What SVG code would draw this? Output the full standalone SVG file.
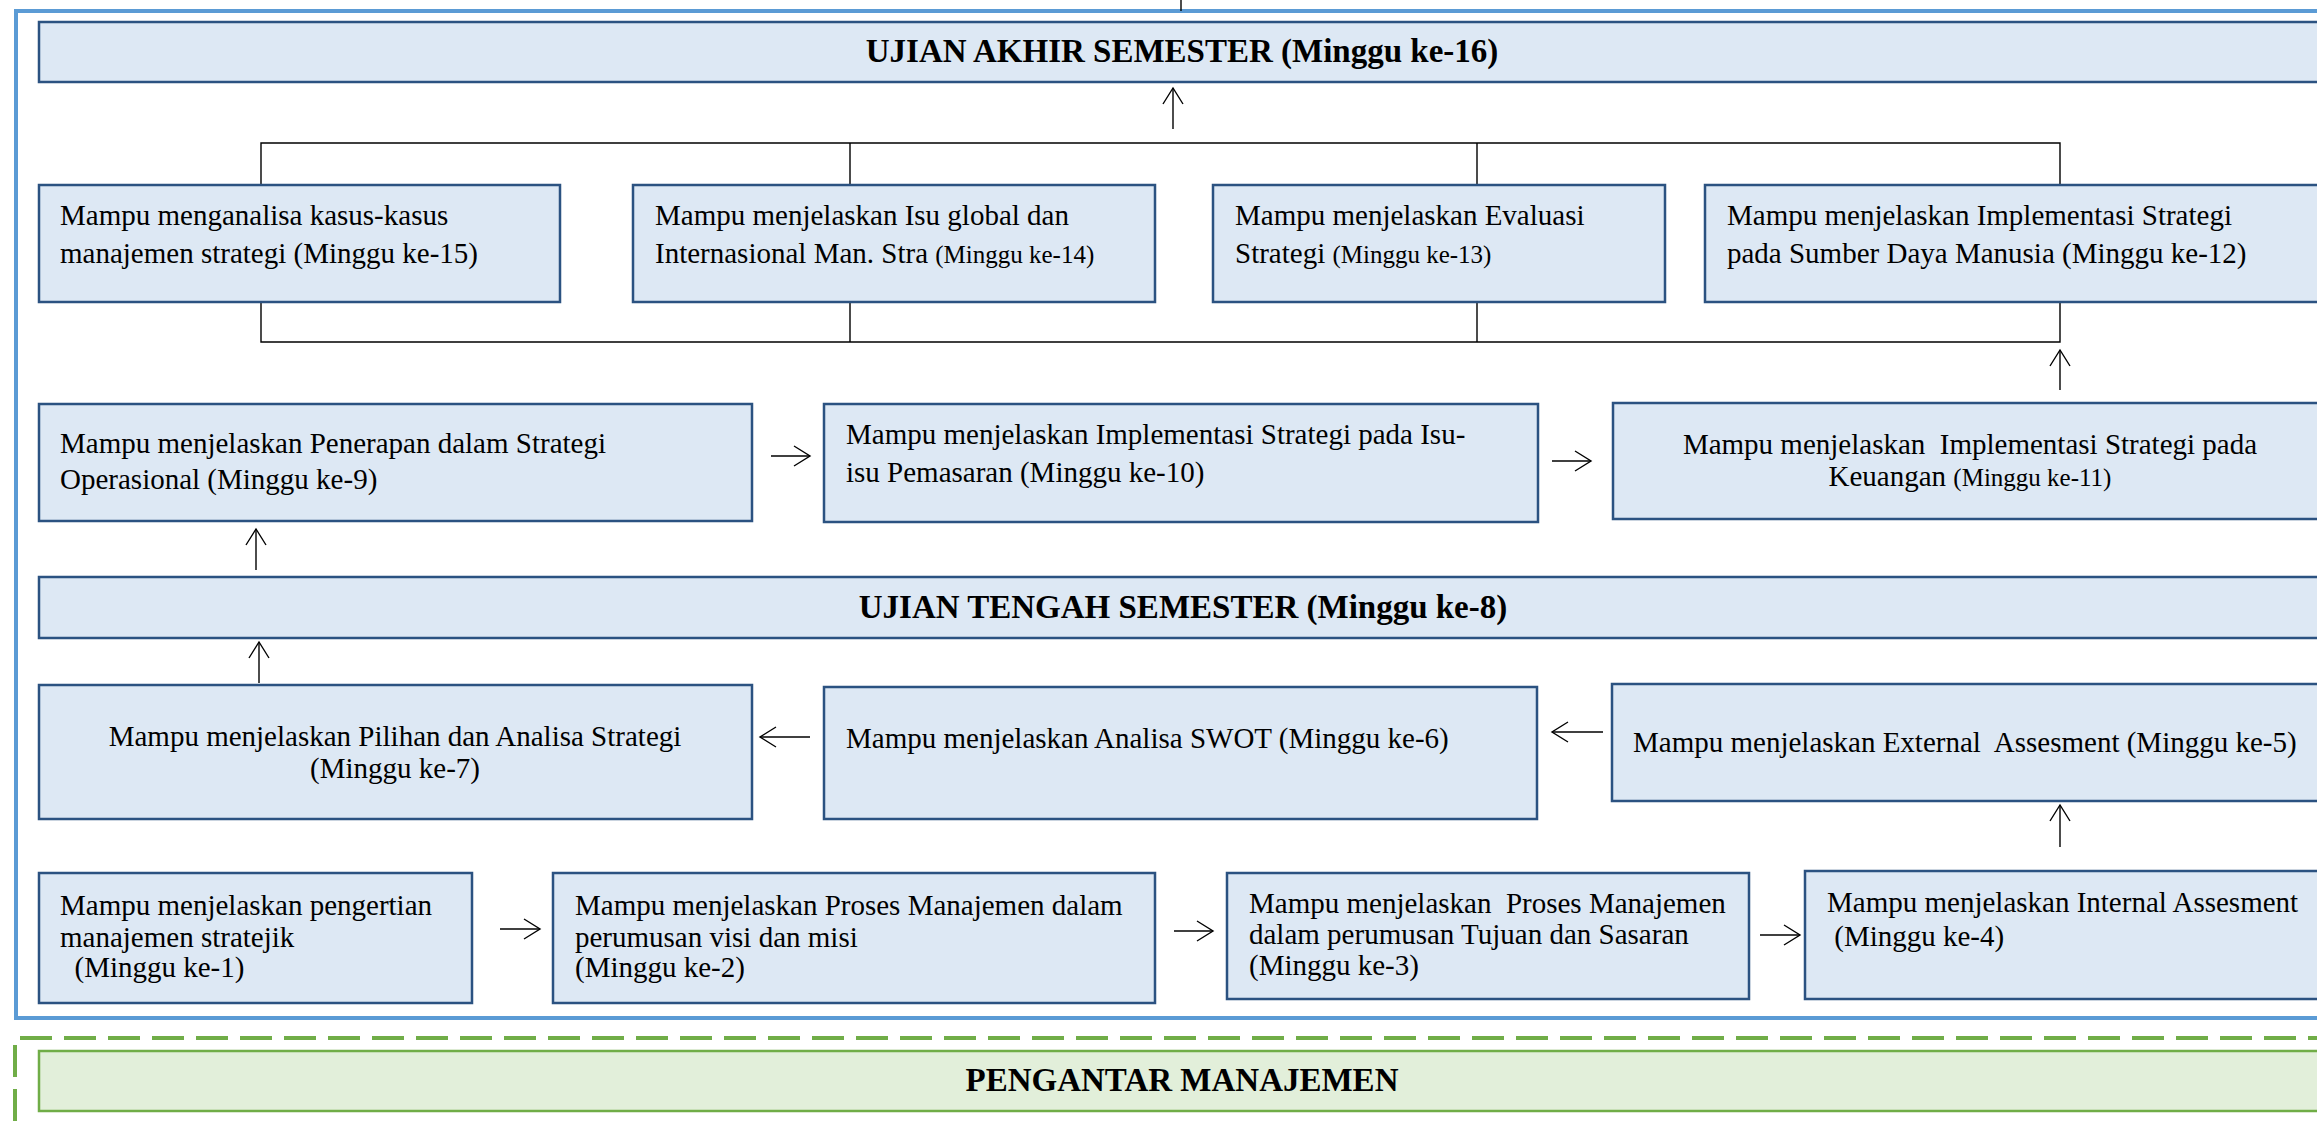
<svg xmlns="http://www.w3.org/2000/svg" width="2317" height="1121" viewBox="0 0 2317 1121">
<style>
.node{fill:#dde8f4;stroke:#2b5281;stroke-width:2.5}
.gnode{fill:#e2efda;stroke:#70ad47;stroke-width:2.5}
.t{font-family:"Liberation Serif","Times New Roman",serif;font-size:29px;fill:#000}
.s{font-size:25px}
.h{font-family:"Liberation Serif","Times New Roman",serif;font-size:33px;font-weight:bold;fill:#000;text-anchor:middle}
.c{text-anchor:middle}
.ln{fill:none;stroke:#000;stroke-width:1.4}
.ar{fill:none;stroke:#000;stroke-width:1.4;marker-end:url(#arr)}
</style>
<defs>
<marker id="arr" markerUnits="userSpaceOnUse" markerWidth="20" markerHeight="24" refX="17" refY="11" orient="auto" overflow="visible">
<path d="M1,1 L17,11 L1,21" fill="none" stroke="#000" stroke-width="1.4"/>
</marker>
</defs>
<rect width="2317" height="1121" fill="#fff"/>
<g id="frames">
<rect x="16" y="11" width="2400" height="1007" fill="none" stroke="#5b9bd5" stroke-width="4"/>
<path d="M15,1121 V1038 H2330" fill="none" stroke="#70ad47" stroke-width="4" stroke-dasharray="32 12"/>
</g>
<g id="connectors">
<path class="ln" d="M1181,0 V11"/>
<path class="ar" d="M1173,129 V88"/>
<path class="ln" d="M261,185 V143 H2060 V185 M850,143 V185 M1477,143 V185"/>
<path class="ln" d="M261,302 V342 H2060 V302 M850,302 V342 M1477,302 V342"/>
<path class="ar" d="M2060,390 V350"/>
<path class="ar" d="M771,456 H810"/>
<path class="ar" d="M1552,461 H1591"/>
<path class="ar" d="M256,570 V529"/>
<path class="ar" d="M259,683 V642"/>
<path class="ar" d="M810,737 H760"/>
<path class="ar" d="M1603,732 H1552"/>
<path class="ar" d="M2060,847 V805"/>
<path class="ar" d="M500,929 H540"/>
<path class="ar" d="M1174,931 H1213"/>
<path class="ar" d="M1760,935 H1800"/>
</g>
<g id="uas">
<rect class="node" x="39" y="22" width="2300" height="60"/>
<text class="h" x="1182" y="62">UJIAN AKHIR SEMESTER (Minggu ke-16)</text>
</g>
<g id="w15">
<rect class="node" x="39" y="185" width="521" height="117"/>
<text class="t" x="60" y="225">Mampu menganalisa kasus-kasus</text>
<text class="t" x="60" y="263">manajemen strategi (Minggu ke-15)</text>
</g>
<g id="w14">
<rect class="node" x="633" y="185" width="522" height="117"/>
<text class="t" x="655" y="225">Mampu menjelaskan Isu global dan</text>
<text class="t" x="655" y="263">Internasional Man. Stra <tspan class="s">(Minggu ke-14)</tspan></text>
</g>
<g id="w13">
<rect class="node" x="1213" y="185" width="452" height="117"/>
<text class="t" x="1235" y="225">Mampu menjelaskan Evaluasi</text>
<text class="t" x="1235" y="263">Strategi <tspan class="s">(Minggu ke-13)</tspan></text>
</g>
<g id="w12">
<rect class="node" x="1705" y="185" width="640" height="117"/>
<text class="t" x="1727" y="225">Mampu menjelaskan Implementasi Strategi</text>
<text class="t" x="1727" y="263">pada Sumber Daya Manusia (Minggu ke-12)</text>
</g>
<g id="w9">
<rect class="node" x="39" y="404" width="713" height="117"/>
<text class="t" x="60" y="453">Mampu menjelaskan Penerapan dalam Strategi</text>
<text class="t" x="60" y="489">Operasional (Minggu ke-9)</text>
</g>
<g id="w10">
<rect class="node" x="824" y="404" width="714" height="118"/>
<text class="t" x="846" y="444">Mampu menjelaskan Implementasi Strategi pada Isu-</text>
<text class="t" x="846" y="482">isu Pemasaran (Minggu ke-10)</text>
</g>
<g id="w11">
<rect class="node" x="1613" y="403" width="730" height="116"/>
<text class="t c" x="1970" y="454" xml:space="preserve">Mampu menjelaskan  Implementasi Strategi pada</text>
<text class="t c" x="1970" y="486">Keuangan <tspan class="s">(Minggu ke-11)</tspan></text>
</g>
<g id="uts">
<rect class="node" x="39" y="577" width="2300" height="61"/>
<text class="h" x="1183" y="618">UJIAN TENGAH SEMESTER (Minggu ke-8)</text>
</g>
<g id="w7">
<rect class="node" x="39" y="685" width="713" height="134"/>
<text class="t c" x="395" y="746">Mampu menjelaskan Pilihan dan Analisa Strategi</text>
<text class="t c" x="395" y="778">(Minggu ke-7)</text>
</g>
<g id="w6">
<rect class="node" x="824" y="687" width="713" height="132"/>
<text class="t" x="846" y="748">Mampu menjelaskan Analisa SWOT (Minggu ke-6)</text>
</g>
<g id="w5">
<rect class="node" x="1612" y="684" width="730" height="117"/>
<text class="t" x="1633" y="752" xml:space="preserve">Mampu menjelaskan External  Assesment (Minggu ke-5)</text>
</g>
<g id="w1">
<rect class="node" x="39" y="873" width="433" height="130"/>
<text class="t" x="60" y="915">Mampu menjelaskan pengertian</text>
<text class="t" x="60" y="947">manajemen stratejik</text>
<text class="t" x="60" y="977" xml:space="preserve">  (Minggu ke-1)</text>
</g>
<g id="w2">
<rect class="node" x="553" y="873" width="602" height="130"/>
<text class="t" x="575" y="915">Mampu menjelaskan Proses Manajemen dalam</text>
<text class="t" x="575" y="947">perumusan visi dan misi</text>
<text class="t" x="575" y="977">(Minggu ke-2)</text>
</g>
<g id="w3">
<rect class="node" x="1227" y="873" width="522" height="126"/>
<text class="t" x="1249" y="913" xml:space="preserve">Mampu menjelaskan  Proses Manajemen</text>
<text class="t" x="1249" y="944">dalam perumusan Tujuan dan Sasaran</text>
<text class="t" x="1249" y="975">(Minggu ke-3)</text>
</g>
<g id="w4">
<rect class="node" x="1805" y="871" width="540" height="128"/>
<text class="t" x="1827" y="912">Mampu menjelaskan Internal Assesment</text>
<text class="t" x="1827" y="946" xml:space="preserve"> (Minggu ke-4)</text>
</g>
<g id="pm">
<rect class="gnode" x="39" y="1051" width="2300" height="60"/>
<text class="h" x="1182" y="1091">PENGANTAR MANAJEMEN</text>
</g>
</svg>
